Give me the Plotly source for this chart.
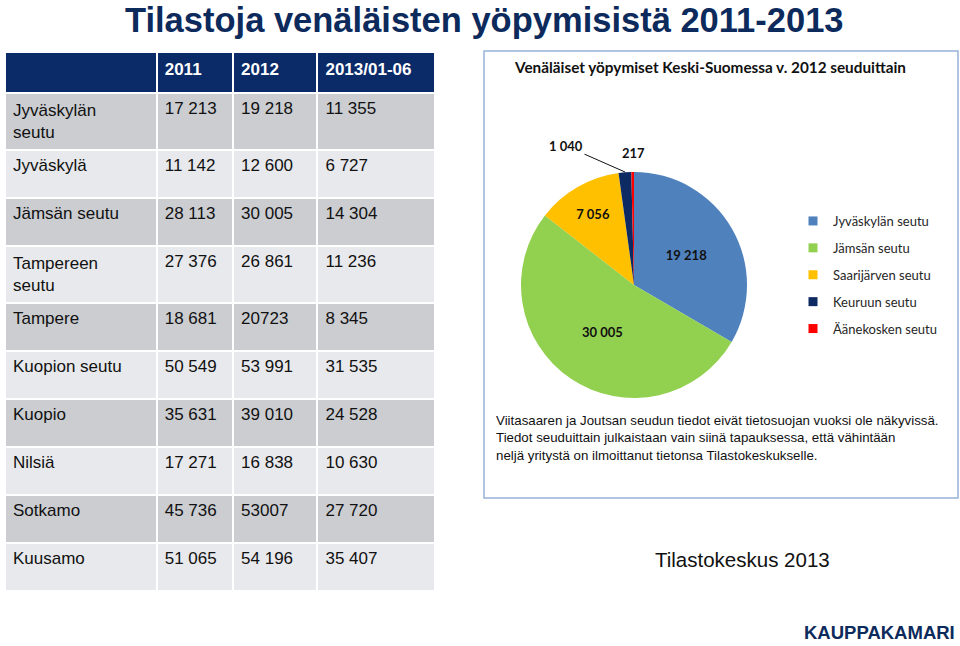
import plotly.graph_objects as go

W, H = 960, 646

# ---------------- data ----------------
table_header = ["", "2011", "2012", "2013/01-06"]
regions = ["Jyväskylän<br>seutu", "Jyväskylä", "Jämsän seutu", "Tampereen<br>seutu", "Tampere",
           "Kuopion seutu", "Kuopio", "Nilsiä", "Sotkamo", "Kuusamo"]
vals_2011 = ["17 213", "11 142", "28 113", "27 376", "18 681", "50 549", "35 631", "17 271", "45 736", "51 065"]
vals_2012 = ["19 218", "12 600", "30 005", "26 861", "20723", "53 991", "39 010", "16 838", "53007", "54 196"]
vals_2013 = ["11 355", "6 727", "14 304", "11 236", "8 345", "31 535", "24 528", "10 630", "27 720", "35 407"]

pie_labels = ["Jyväskylän seutu", "Jämsän seutu", "Saarijärven seutu", "Keuruun seutu", "Äänekosken seutu"]
pie_values = [19218, 30005, 7056, 1040, 217]
pie_colors = ["#4f81bd", "#92d050", "#ffc000", "#0e2a63", "#ff0000"]

def fmt(v):
    return f"{v:,}".replace(",", " ")

NAVY = "#0a2a68"
DARK = "#cbcdd1"
LIGHT = "#e8e9ec"
CAL = "Lato, Noto Sans"
ARIAL = "Arial, Liberation Sans"

def px(x):
    return x / W

def py(y):
    return 1 - y / H

fig = go.Figure()

# ---------------- table ----------------
row_fill = [DARK if i % 2 == 0 else LIGHT for i in range(len(regions))]
fig.add_trace(go.Table(
    domain=dict(x=[px(5), px(435)], y=[py(640), py(52)]),
    columnwidth=[151, 76, 84, 117],
    header=dict(
        values=[f"<b>{h}</b>" if h else "" for h in table_header],
        fill_color=NAVY,
        line=dict(color="white", width=2),
        font=dict(family=ARIAL, size=17, color="white"),
        align="left",
        height=41,
    ),
    cells=dict(
        values=[regions, vals_2011, vals_2012, vals_2013],
        fill_color=[row_fill] * 4,
        line=dict(color="white", width=2),
        font=dict(family=ARIAL, size=17, color="#111111"),
        align="left",
        height=48,
    ),
))

# ---------------- pie ----------------
inside_text = [fmt(v) if v > 5000 else "" for v in pie_values]
fig.add_trace(go.Pie(
    labels=pie_labels,
    values=pie_values,
    marker=dict(colors=pie_colors, line=dict(width=0)),
    sort=False,
    direction="clockwise",
    rotation=0,
    text=inside_text,
    textinfo="text",
    textposition="inside",
    insidetextorientation="horizontal",
    textfont=dict(family=CAL, size=13, color="#111111", weight="bold"),
    domain=dict(x=[px(521), px(747)], y=[py(398), py(172)]),
    hoverinfo="label+value",
    showlegend=False,
))

# legend entries (one per slice, separate groups for spacing)
for lab, col in zip(pie_labels, pie_colors):
    fig.add_trace(go.Scatter(
        x=[None], y=[None], mode="markers", name=lab, legendgroup=lab,
        marker=dict(symbol="square", size=9, color=col),
        showlegend=True, hoverinfo="skip",
    ))

annotations = [
    dict(text="<b>Tilastoja venäläisten yöpymisistä 2011-2013</b>", x=px(484), y=py(19.5),
         xanchor="center", yanchor="middle",
         font=dict(family=ARIAL, size=34.5, color="#0d2a5c")),
    dict(text="<b>Venäläiset yöpymiset Keski-Suomessa v. 2012 seuduittain</b>", x=px(710), y=py(67),
         xanchor="center", yanchor="middle",
         font=dict(family=CAL, size=15.3, color="#111111")),
    dict(text="<b>" + fmt(pie_values[3]) + "</b>", x=px(625), y=py(172),
         showarrow=True, arrowhead=0, arrowwidth=1, arrowcolor="#111111", ax=-59, ay=-26,
         font=dict(family=CAL, size=13, color="#111111")),
    dict(text="<b>" + fmt(pie_values[4]) + "</b>", x=px(633), y=py(153),
         xanchor="center", yanchor="middle",
         font=dict(family=CAL, size=13, color="#111111")),
    dict(text="Viitasaaren ja Joutsan seudun tiedot eivät tietosuojan vuoksi ole näkyvissä.<br>"
              "Tiedot seuduittain julkaistaan vain siinä tapauksessa, että vähintään<br>"
              "neljä yritystä on ilmoittanut tietonsa Tilastokeskukselle.",
         x=px(494), y=py(411), xanchor="left", yanchor="top", align="left",
         font=dict(family=ARIAL, size=13.3, color="#111111")),
    dict(text="Tilastokeskus 2013", x=px(653), y=py(559), xanchor="left", yanchor="middle",
         font=dict(family=ARIAL, size=20.5, color="#111111")),
    dict(text="<b>KAUPPAKAMARI</b>", x=px(957), y=py(632), xanchor="right", yanchor="middle",
         font=dict(family=ARIAL, size=18.5, color="#0d2a5c")),
]
for a in annotations:
    a.setdefault("xref", "paper")
    a.setdefault("yref", "paper")
    a.setdefault("showarrow", False)

shapes = [
    dict(type="rect", xref="paper", yref="paper", x0=px(484), x1=px(958), y0=py(51), y1=py(498),
         line=dict(color="#95b3d7", width=1.5), fillcolor="rgba(0,0,0,0)"),
]

fig.update_layout(
    width=W, height=H,
    margin=dict(l=0, r=0, t=0, b=0),
    paper_bgcolor="white",
    plot_bgcolor="rgba(0,0,0,0)",
    xaxis=dict(visible=False, domain=[0.99, 1.0]),
    yaxis=dict(visible=False, domain=[0.0, 0.01]),
    annotations=annotations,
    shapes=shapes,
    showlegend=True,
    legend=dict(x=px(793), y=py(206), xanchor="left", yanchor="top",
                font=dict(family=CAL, size=13, color="#262626"),
                tracegroupgap=7, traceorder="grouped",
                bgcolor="rgba(0,0,0,0)", itemclick=False, itemdoubleclick=False),
)

fig.write_html("out.html", config={"displayModeBar": False},
               post_script="document.body.style.margin='0px';")
